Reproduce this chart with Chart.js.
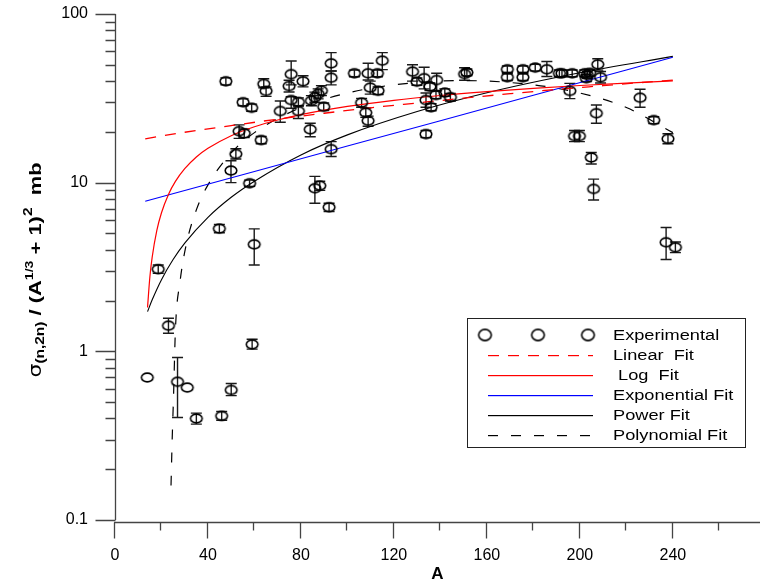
<!DOCTYPE html>
<html><head><meta charset="utf-8">
<script src="https://cdn.jsdelivr.net/npm/chart.js@4.4.1/dist/chart.umd.min.js"></script>
<style>html,body{margin:0;padding:0;background:#fff;} #wrap{width:767px;height:585px;position:relative;}</style>
</head><body><div id="wrap"><canvas id="c"></canvas></div>
<script>
// ---------- data ----------
const expA = [13.9,18.6,23.0,26.9,31.1,35.0,45.9,50.0,59.0,59.9,44.9,57.9,49.9,52.0,53.4,55.6,62.9,47.7,55.1,58.8,64.0,65.0,71.1,75.8,74.9,75.8,78.9,78.9,80.9,84.0,84.5,86.0,87.4,88.8,89.8,93.0,93.0,93.0,86.0,88.1,92.1,103.0,108.9,112.9,115.0,109.8,113.2,106.1,107.9,108.9,128.0,129.9,133.0,138.4,135.5,133.8,138.1,141.9,144.3,136.0,133.8,150.4,151.4,168.8,168.8,175.5,175.5,180.8,185.8,191.2,192.3,196.7,202.1,203.2,202.8,204.2,207.7,208.9,195.7,207.1,197.7,199.8,204.9,205.9,225.9,231.8,237.9,237.1,241.1];
const expSigma = [0.70,3.07,1.42,0.66,0.61,0.40,0.414,0.59,1.10,4.31,5.34,9.92,11.8,14.8,20.2,19.6,17.9,39.9,30.0,27.8,38.5,35.0,26.6,44.0,37.4,30.9,30.1,26.6,39.9,20.7,30.6,32.1,33.6,35.1,28.2,51.0,41.9,15.8,9.27,9.60,7.15,44.5,44.5,44.5,52.9,36.6,35.1,29.8,26.0,23.3,45.5,39.7,41.6,40.6,37.1,30.9,33.1,34.2,32.1,28.0,19.4,44.1,45.0,47.0,42.2,47.0,42.2,48.1,47.0,44.5,44.5,44.5,44.5,43.5,41.6,44.8,50.3,42.2,35.0,25.8,18.9,18.9,14.1,9.18,31.9,23.5,18.2,4.43,4.14];
const expErrLow = [0.70,2.90,1.28,0.405,0.61,0.37,0.39,0.546,1.03,3.25,5.05,9.5,10.0,13.8,18.3,18.5,17.0,38.0,28.6,26.5,36.5,32.5,22.8,38.0,34.5,27.6,28.5,24.0,37.0,18.7,28.6,30.0,31.4,32.8,26.8,45.9,38.0,14.3,7.55,9.0,6.75,42.5,40.6,42.5,46.8,33.5,33.3,28.0,24.4,21.6,40.0,37.8,36.0,35.1,35.2,28.0,31.5,32.5,30.5,26.7,18.5,40.5,43.0,45.0,40.3,45.0,40.3,46.0,42.6,42.5,42.5,42.5,42.5,41.5,39.7,42.8,46.5,39.0,31.5,22.5,17.5,17.5,12.9,7.9,28.0,22.4,17.0,3.5,3.85];
const expErrHigh = [0.70,3.25,1.57,0.92,0.61,0.43,0.44,0.645,1.18,5.32,5.65,10.35,13.5,15.9,22.0,20.8,18.8,41.8,31.4,29.2,41.3,37.0,30.5,52.6,40.5,32.3,31.8,28.6,43.0,22.5,32.8,34.4,36.0,37.6,29.7,59.0,45.9,17.5,10.9,10.2,7.55,46.5,51.0,46.5,59.0,40.0,37.0,31.6,27.7,24.8,50.0,41.7,48.3,44.5,39.0,34.0,34.8,36.0,33.8,29.4,20.4,48.0,47.2,49.2,44.2,49.2,44.2,50.3,52.3,46.6,46.6,46.6,46.6,45.5,43.6,46.9,54.3,45.6,38.8,28.9,20.4,20.4,15.1,10.5,35.8,24.6,19.5,5.42,4.45];

const linFitA = [13,30,50,70,90,110,130,150,170,190,210,230,240];
const linFitY = [18.2,19.9,21.8,23.8,25.8,27.8,29.7,31.7,33.7,35.7,37.6,39.6,40.6];
const logFitA = [14,15,16,18,20,23,26,30,35,40,50,60,70,80,100,120,140,160,180,200,220,240];
const logFitY = [1.82,2.76,3.62,5.21,6.63,8.52,10.17,12.1,14.2,15.98,18.98,21.44,23.52,25.32,28.33,30.79,32.87,34.66,36.25,37.67,38.96,40.13];
const expFitA = [13,60,100,140,180,220,240];
const expFitY = [7.76,11.66,16.5,23.3,33.0,46.6,55.4];
const powFitA = [14,16,20,25,30,40,50,60,80,100,130,160,200,240];
const powFitY = [1.72,2.02,2.66,3.50,4.38,6.23,8.19,10.2,14.6,19.2,26.4,34.1,44.8,56.1];
const polyFitA = [24.1,24.6,25.2,26,28,30.5,35,40,50,60,80,100,120,150,180,200,220,240];
const polyFitY = [0.16,0.30,0.55,1.35,2.6,4.2,6.9,9.7,15.0,19.8,27.9,34.0,38.0,40.3,38.0,34.0,27.9,19.8];

const xMajorTicks = [0,40,80,120,160,200,240];
const xTickLabels = ['0','40','80','120','160','200','240'];
const xMinorTicks = [20,60,100,140,180,220,260];
const yMajorTicks = [0.1,1,10,100];
const yTickLabels = ['0.1','1','10','100'];
const seriesLabels = ['Experimental','Linear  Fit',' Log  Fit','Exponential Fit','Power Fit','Polynomial Fit'];
const xTitle = 'A';
const yTitleParts = ['\u03C3','(n,2n)',' / (A','1/3',' + 1)','2','  mb'];

// ---------- styles ----------
const fitColors = ['rgb(255,0,0)','rgb(255,0,0)','rgb(0,0,255)','rgb(0,0,0)','rgb(0,0,0)'];
const fitWidths = [1.3,1.2,1.1,1.1,1.2];
const fitDashes = [[11,9],[],[],[],[10,13]];

function makeMarker(rx, ry, lw){
  const c = document.createElement('canvas');
  c.width = Math.ceil(2*rx+lw+2); c.height = Math.ceil(2*ry+lw+2);
  const g = c.getContext('2d');
  g.lineWidth = lw; g.strokeStyle = '#000';
  g.beginPath(); g.ellipse(c.width/2, c.height/2, rx, ry, 0, 0, 2*Math.PI); g.stroke();
  return c;
}
const marker = makeMarker(5.8, 4.4, 1.6);
const legendMarker = makeMarker(6.3, 5.6, 1.6);
const pts = (xa, ya) => xa.map((v,i)=>({x:v, y:ya[i]}));
const FONT = "'Liberation Sans', Arial, sans-serif";

const decorPlugin = {
  id:'decor',
  beforeDatasetsDraw(chart){
    const ctx = chart.ctx, xs = chart.scales.x, ys = chart.scales.y;
    ctx.save();
    ctx.strokeStyle = '#1a1a1a'; ctx.lineWidth = 1.4;
    for (let i=0;i<expA.length;i++){
      if (expErrLow[i] === expErrHigh[i]) continue;
      const px = xs.getPixelForValue(expA[i]);
      const pt = ys.getPixelForValue(expErrHigh[i]);
      const pb = ys.getPixelForValue(expErrLow[i]);
      ctx.beginPath();
      ctx.moveTo(px, pt); ctx.lineTo(px, pb);
      ctx.moveTo(px-5.5, pt); ctx.lineTo(px+5.5, pt);
      ctx.moveTo(px-5.5, pb); ctx.lineTo(px+5.5, pb);
      ctx.stroke();
    }
    ctx.restore();
  },
  afterDraw(chart){
    const ctx = chart.ctx, xs = chart.scales.x, ys = chart.scales.y;
    const ca = chart.chartArea;
    ctx.save();
    ctx.strokeStyle = '#444'; ctx.lineWidth = 1.3;
    const ax = ca.left + 0.5;
    ctx.beginPath(); ctx.moveTo(ax, ca.top); ctx.lineTo(ax, ca.bottom); ctx.stroke();
    ctx.beginPath();
    for (const v of yMajorTicks){ const py = Math.round(ys.getPixelForValue(v))+0.5; ctx.moveTo(ax-20, py); ctx.lineTo(ax, py); }
    for (let d=-1; d<2; d++){ for (let k=2;k<10;k++){ const v = k*Math.pow(10,d); const py = Math.round(ys.getPixelForValue(v))+0.5; ctx.moveTo(ax-10, py); ctx.lineTo(ax, py); } }
    ctx.stroke();
    const ay = ca.bottom + 2.5;
    ctx.beginPath(); ctx.moveTo(ca.left-1, ay); ctx.lineTo(ca.right, ay); ctx.stroke();
    ctx.beginPath();
    for (const v of xMajorTicks){ const px = Math.round(xs.getPixelForValue(v))-0.5; ctx.moveTo(px, ay); ctx.lineTo(px, ay+16); }
    for (const v of xMinorTicks){ const px = Math.round(xs.getPixelForValue(v))-0.5; ctx.moveTo(px, ay); ctx.lineTo(px, ay+8); }
    ctx.stroke();
    ctx.restore();

    // legend
    ctx.save();
    ctx.setLineDash([]);
    ctx.strokeStyle = '#222'; ctx.lineWidth = 1;
    ctx.strokeRect(467.5, 318.5, 278, 129);
    const rows = [335,355,375,395,415,435];
    const ds = chart.data.datasets;
    for (const mx of [485,538,588]) ctx.drawImage(legendMarker, mx-legendMarker.width/2, rows[0]-legendMarker.height/2);
    for (let i=1;i<ds.length;i++){
      const col = fitColors[i-1];
      const dash = fitDashes[i-1];
      ctx.fillStyle = col;
      if (dash.length === 0) {
        ctx.fillRect(488, rows[i], 105, 1.2);
      } else {
        let x = 488;
        while (x < 593) { ctx.fillRect(x, rows[i], Math.min(dash[0], 593 - x), 1.2); x += dash[0] + dash[1]; }
      }
    }
    ctx.fillStyle = '#000'; ctx.font = '14px ' + FONT; ctx.textBaseline = 'middle';
    for (let i=0;i<ds.length;i++){
      ctx.save(); ctx.translate(613, rows[i]+1); ctx.scale(1.3,1);
      ctx.fillText(ds[i].label, 0, 0); ctx.restore();
    }
    ctx.restore();

    // y title
    ctx.save();
    const fonts = ['17px "DejaVu Sans"', 'bold 12px '+FONT, 'bold 17px '+FONT, 'bold 11px '+FONT, 'bold 17px '+FONT, 'bold 12px '+FONT, 'bold 17px '+FONT];
    const dys = [0, 3, 0, -8, 0, -9, 0];
    let total = 0; const widths = [];
    for (let i=0;i<yTitleParts.length;i++){ ctx.font = fonts[i]; const w = ctx.measureText(yTitleParts[i]).width; widths.push(w); total += w; }
    const target = 215;
    const sx = target/total;
    ctx.translate(41, 270 + target/2); ctx.rotate(-Math.PI/2); ctx.scale(sx,1);
    ctx.fillStyle = '#000'; ctx.textBaseline = 'alphabetic';
    let x = 0;
    for (let i=0;i<yTitleParts.length;i++){ ctx.font = fonts[i]; ctx.fillText(yTitleParts[i], x, dys[i]); x += widths[i]; }
    ctx.restore();
  }
};

const fitA = [linFitA, logFitA, expFitA, powFitA, polyFitA];
const fitY = [linFitY, logFitY, expFitY, powFitY, polyFitY];
const datasets = [
  { label: seriesLabels[0], data: pts(expA, expSigma), pointStyle: marker, pointRadius: 6, showLine: false, borderColor:'#000', backgroundColor:'#000' }
];
for (let k=0;k<5;k++){
  datasets.push({ label: seriesLabels[k+1], data: pts(fitA[k], fitY[k]), showLine: true, pointRadius: 0,
    borderColor: fitColors[k], backgroundColor: fitColors[k], borderWidth: fitWidths[k], borderDash: fitDashes[k],
    cubicInterpolationMode: k === 2 ? 'default' : 'monotone', tension: 0 });
}

new Chart(document.getElementById('c'), {
  type: 'scatter',
  data: { datasets },
  options: {
    responsive: true, maintainAspectRatio: false, animation: false, devicePixelRatio: 1,
    layout: { padding: { top: 14, right: 0, left: 0, bottom: 0 } },
    plugins: { legend: { display: false }, tooltip: { enabled: false } },
    scales: {
      x: {
        type: 'linear', min: 0, max: 277.5,
        grid: { display: false, drawTicks: false, tickLength: 0 },
        border: { display: false },
        afterBuildTicks: s => { s.ticks = xMajorTicks.map(v => ({ value: v })); },
        afterFit: s => { s.height = 65; s.paddingLeft = 0; s.paddingRight = 0; },
        ticks: { autoSkip: false, maxRotation: 0, padding: 26, color: '#000', font: { family: FONT, size: 16 },
                 callback: (v, i) => xTickLabels[i] },
        title: { display: true, text: xTitle, color: '#000', font: { family: FONT, size: 17, weight: 'bold' }, padding: { top: 0, bottom: 0 } }
      },
      y: {
        type: 'logarithmic', min: 0.1, max: 100,
        grid: { display: false, drawTicks: false, tickLength: 0 },
        border: { display: false },
        afterBuildTicks: s => { s.ticks = yMajorTicks.map(v => ({ value: v, major: true })); },
        afterFit: s => { s.width = 115; s.paddingTop = 0; s.paddingBottom = 0; },
        ticks: { autoSkip: false, padding: 27, color: '#000', font: { family: FONT, size: 16 },
                 callback: (v, i) => yTickLabels[i] }
      }
    }
  },
  plugins: [decorPlugin]
});
</script></body></html>
